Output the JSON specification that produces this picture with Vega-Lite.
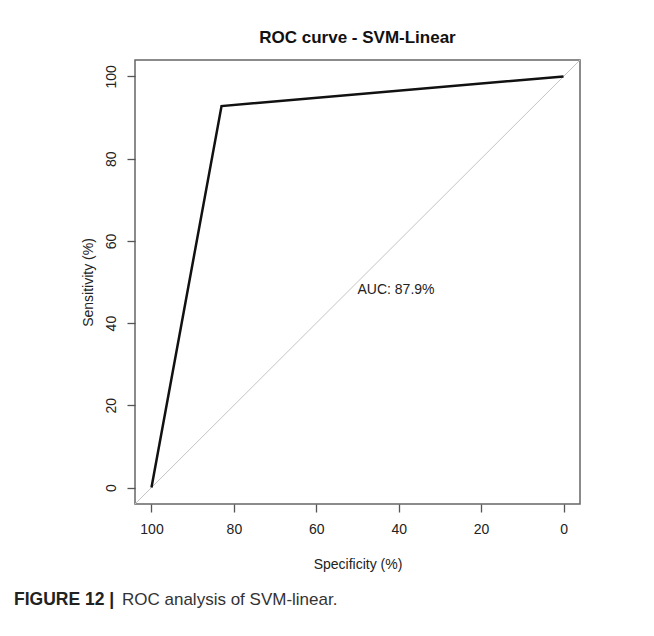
{
  "$schema": "https://vega.github.io/schema/vega-lite/v6.json",
  "autosize": {"type": "pad"},
  "padding": {"left": 14, "top": 28, "right": 0, "bottom": 0},
  "background": "white",
  "bounds": "flush",
  "spacing": 110,
  "config": {
    "font": "Liberation Sans",
    "view": {"stroke": "#666", "strokeWidth": 1.5}
  },
  "datasets": {
    "roc": [
      {"specificity": 100, "sensitivity": 0},
      {"specificity": 83.0, "sensitivity": 92.8},
      {"specificity": 0, "sensitivity": 100}
    ],
    "chance": [
      {"specificity": 104, "sensitivity": -4},
      {"specificity": -4, "sensitivity": 104}
    ],
    "auc": [
      {"specificity": 50, "sensitivity": 50, "label": "AUC: 87.9%"}
    ]
  },
  "vconcat": [
    {
      "width": 445,
      "height": 444,
      "title": {
        "text": "ROC curve - SVM-Linear",
        "fontSize": 17,
        "fontWeight": "bold",
        "font": "Liberation Sans",
        "color": "#111",
        "anchor": "middle",
        "frame": "group",
        "offset": 13
      },
      "encoding": {
        "x": {
          "field": "specificity",
          "type": "quantitative",
          "scale": {"domain": [-4, 104], "reverse": true, "nice": false, "zero": false},
          "axis": {
            "title": "Specificity (%)",
            "values": [0, 20, 40, 60, 80, 100],
            "grid": false,
            "domain": false,
            "tickSize": 8,
            "tickWidth": 1.3,
            "tickColor": "#555",
            "labelFontSize": 14,
            "labelColor": "#222",
            "labelPadding": 10,
            "titleFontSize": 14,
            "titleFontWeight": "normal",
            "titleColor": "#222",
            "titlePadding": 21
          }
        },
        "y": {
          "field": "sensitivity",
          "type": "quantitative",
          "scale": {"domain": [-4, 104], "nice": false, "zero": false},
          "axis": {
            "title": "Sensitivity (%)",
            "values": [0, 20, 40, 60, 80, 100],
            "grid": false,
            "domain": false,
            "tickSize": 8,
            "tickWidth": 1.3,
            "tickColor": "#555",
            "labelAngle": -90,
            "labelAlign": "center",
            "labelBaseline": "bottom",
            "labelFontSize": 14,
            "labelColor": "#222",
            "labelPadding": 9,
            "titleFontSize": 14,
            "titleFontWeight": "normal",
            "titleColor": "#222",
            "titlePadding": 9
          }
        }
      },
      "layer": [
        {
          "data": {"name": "chance"},
          "mark": {"type": "line", "color": "#c4c4c4", "strokeWidth": 1, "clip": true}
        },
        {
          "data": {"name": "roc"},
          "mark": {"type": "line", "color": "#111", "strokeWidth": 2.5}
        },
        {
          "data": {"name": "auc"},
          "mark": {"type": "text", "align": "left", "baseline": "top", "fontSize": 14, "color": "#222", "dy": 1},
          "encoding": {"text": {"field": "label"}}
        }
      ]
    },
    {
      "bounds": "flush",
      "spacing": 0,
      "hconcat": [
        {
          "width": 108,
          "height": 1,
          "view": {"stroke": null},
          "data": {"values": [{}]},
          "mark": {"type": "text"},
          "encoding": {},
          "title": {
            "text": "FIGURE 12 |",
            "orient": "top",
            "anchor": "start",
            "frame": "group",
            "fontSize": 17.5,
            "fontWeight": "bold",
            "font": "Liberation Sans",
            "color": "#222",
            "dx": -121,
            "offset": 0
          }
        },
        {
          "width": 1,
          "height": 1,
          "view": {"stroke": null},
          "data": {"values": [{}]},
          "mark": {"type": "text"},
          "encoding": {},
          "title": {
            "text": "ROC analysis of SVM-linear.",
            "orient": "top",
            "anchor": "start",
            "frame": "group",
            "fontSize": 17,
            "fontWeight": "normal",
            "font": "Liberation Sans",
            "color": "#333",
            "dx": -121,
            "offset": 0
          }
        }
      ]
    }
  ]
}
